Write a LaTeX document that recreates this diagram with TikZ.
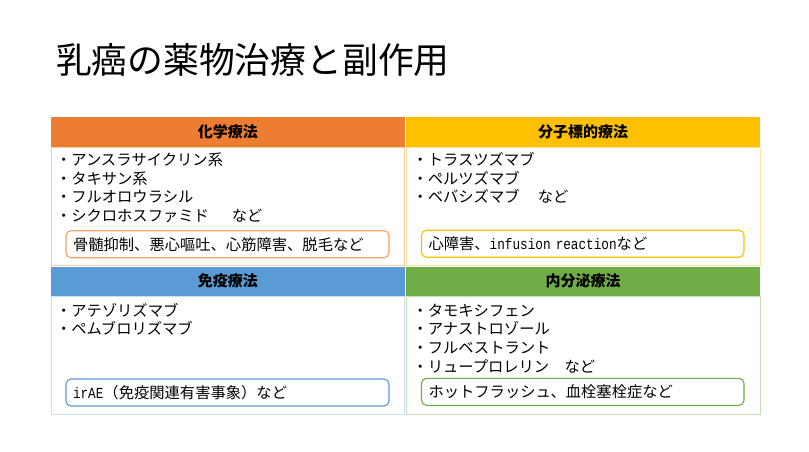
\documentclass[tikz,border=0pt]{standalone}
\usepackage{fontspec}
\setmainfont{Noto Sans CJK JP}
\newfontfamily\mymono[FakeStretch=0.83]{Liberation Mono}
\newcommand\mylat[1]{{\mymono\fontsize{15.3}{18}\selectfont #1}}
\definecolor{cOr}{HTML}{ED7D31}
\definecolor{cYe}{HTML}{FFC000}
\definecolor{cBl}{HTML}{5B9BD5}
\definecolor{cGr}{HTML}{70AD47}
\definecolor{cOrL}{HTML}{F8CBAD}
\definecolor{cYeL}{HTML}{FFE699}
\definecolor{cBlL}{HTML}{C9DFF2}
\definecolor{cGrL}{HTML}{C5E0B4}
\definecolor{cOrB}{HTML}{F1A06A}
\tikzset{
  hdr/.style={font=\bfseries\fontsize{15}{17}\selectfont, text=black},
  item/.style={anchor=base west, font=\fontsize{15.3}{18}\selectfont},
  sebox/.style={draw=#1, rounded corners=5pt, line width=1.1pt, anchor=west,
    minimum height=27pt, text width=309pt, inner xsep=7pt, inner ysep=0pt,
    align=left, font=\fontsize{15.3}{18}\selectfont},
  cellline/.style={draw=#1, line width=0.8pt}
}
\begin{document}
\begin{tikzpicture}[x=1pt,y=-1pt, every node/.style={inner sep=0pt, outer sep=0pt}]
\useasboundingbox (0,0) rectangle (809,451);
\fill[white] (0,0) rectangle (809,451);
% title
\node[anchor=west, font=\fontsize{35.8}{40}\selectfont] (title) at (56,60) {乳癌の薬物治療と副作用};

% top-left: chemotherapy
\fill[cOr] (51,117) rectangle (404.5,147);
\draw[cellline=cOrL] (51,147) rectangle (404.5,265);
\node[hdr] (h1) at (227.75,131.5) {化学療法};
\node[item] (a1) at (56,165.5) {・アンスラサイクリン系};
\node[item] (a2) at (56,184.2) {・タキサン系};
\node[item] (a3) at (56,202.8) {・フルオロウラシル};
\node[item] (a4) at (56,221.5) {・シクロホスファミド\hspace{1.5em}など};
\node[sebox=cOrB] (s1) at (66,244.2) {骨髄抑制、悪心嘔吐、心筋障害、脱毛など};

% top-right: molecular targeted
\fill[cYe] (406,117) rectangle (760,147);
\draw[cellline=cYeL] (406,147) rectangle (760,265);
\node[hdr] (h2) at (583,131.5) {分子標的療法};
\node[item] (b1) at (412.5,165.5) {・トラスツズマブ};
\node[item] (b2) at (412.5,184.2) {・ペルツズマブ};
\node[item] (b3) at (412.5,202.8) {・ベバシズマブ\hspace{1.2em}など};
\node[sebox=cYe, text width=308.5pt] (s2) at (421.5,243.7) {心障害、\mylat{infusion reaction}など};

% bottom-left: immunotherapy
\fill[cBl] (51,266.5) rectangle (404.5,296);
\draw[cellline=cBlL] (51,296) rectangle (404.5,414);
\node[hdr] (h3) at (227.75,281) {免疫療法};
\node[item] (c1) at (56,316) {・アテゾリズマブ};
\node[item] (c2) at (56,334.7) {・ペムブロリズマブ};
\node[sebox=cBl] (s3) at (66,392.5) {\mylat{irAE}（免疫関連有害事象）など};

% bottom-right: endocrine
\fill[cGr] (406,266.5) rectangle (760,296);
\draw[cellline=cGrL] (406,296) rectangle (760,414);
\node[hdr] (h4) at (583,281) {内分泌療法};
\node[item] (d1) at (412.5,316) {・タモキシフェン};
\node[item] (d2) at (412.5,334.7) {・アナストロゾール};
\node[item] (d3) at (412.5,353.3) {・フルベストラント};
\node[item] (d4) at (412.5,372) {・リュープロレリン\hspace{1em}など};
\node[sebox=cGr, text width=308.5pt] (s4) at (421.5,391.8) {ホットフラッシュ、血栓塞栓症など};
\end{tikzpicture}
\end{document}
